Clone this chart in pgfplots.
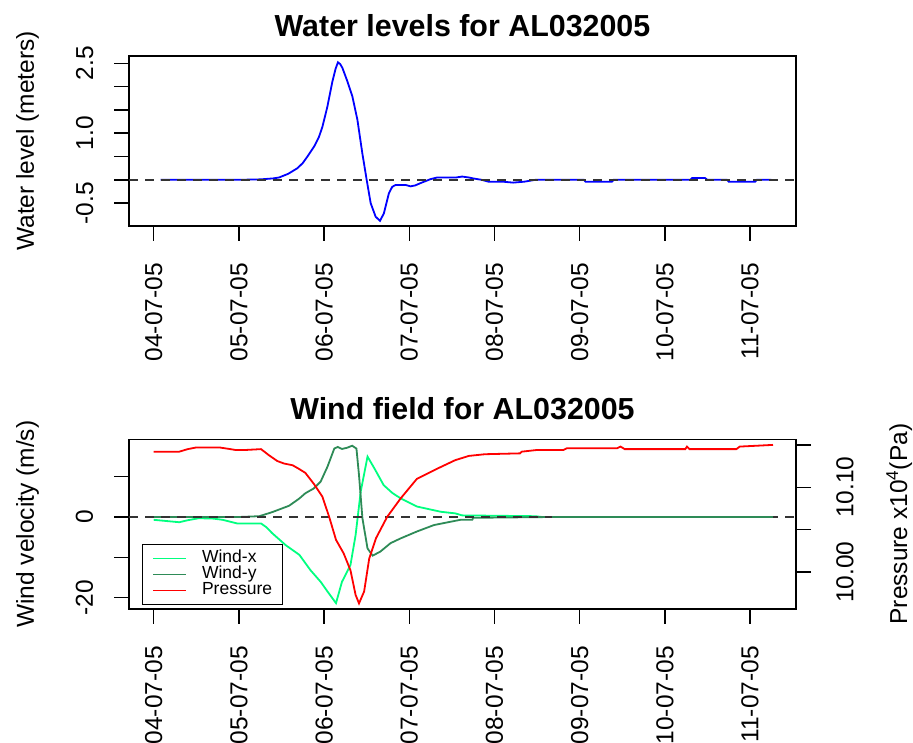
\documentclass[border=0pt]{standalone}
\usepackage{fontspec}
\setmainfont{Liberation Sans}
\usepackage{pgfplots}
\pgfplotsset{compat=1.18}

\definecolor{windx}{HTML}{00FF7F}
\definecolor{windy}{HTML}{2E8B57}
\definecolor{refline}{HTML}{333333}

\newcommand\tickfont{\fontsize{24.5}{29}\selectfont}
\newcommand\titlefont{\fontsize{30.4}{36}\selectfont\bfseries}
\newcommand\legfont{\fontsize{17.5}{16}\selectfont}

% time axis: days since 04-07-05 00:00
\pgfplotsset{
  rpanel/.style={
    scale only axis,
    width=667pt,
    xmin=-0.29, xmax=7.54,
    axis line style={line width=1.4pt, black},
    every tick/.style={line width=1.4pt, black},
    major tick length=15pt,
    tick align=outside,
    xtick pos=bottom,
    ytick pos=left,
    xtick={0,1,2,3,4,5,6,7},
    xticklabels={04-07-05,05-07-05,06-07-05,07-07-05,08-07-05,09-07-05,10-07-05,11-07-05},
    xticklabel style={yshift=-22pt, rotate=90, anchor=east, inner sep=0pt, font=\tickfont},
    yticklabel style={xshift=-21pt, rotate=90, anchor=base, inner sep=0pt, font=\tickfont},
    every axis title/.style={font=\titlefont, at={(0.5,1)}, anchor=base, yshift=19.3pt, inner sep=0pt},
  },
  zeroline/.style={refline, line width=1.6pt, dash pattern=on 9pt off 7pt},
}

\begin{document}
\begin{tikzpicture}
\path[use as bounding box] (0,0) rectangle (913pt,743pt);

% ---------------- water levels ----------------
\begin{axis}[rpanel, name=wl,
  at={(129pt,517pt)}, anchor=south west, height=170pt,
  ymin=-0.99, ymax=2.655,
  ytick={-0.5,0,0.5,1,1.5,2,2.5},
  yticklabels={-0.5,,,1.0,,,2.5},
  title={Water levels for AL032005},
]
\addplot[blue, line width=1.8pt] coordinates {
(0.08,0) (0.5,0) (1.0,0) (1.257,0.01) (1.40,0.03) (1.472,0.05) (1.58,0.13)
(1.688,0.25) (1.75,0.36) (1.805,0.50) (1.882,0.71) (1.94,0.92) (1.981,1.14)
(2.039,1.57) (2.098,2.11) (2.135,2.38) (2.163,2.52) (2.19,2.48) (2.215,2.40)
(2.274,2.11) (2.332,1.79) (2.391,1.29) (2.449,0.57) (2.500,0.0) (2.547,-0.5)
(2.605,-0.79) (2.656,-0.88) (2.702,-0.72) (2.761,-0.29) (2.80,-0.15) (2.840,-0.11)
(2.957,-0.11) (3.015,-0.14) (3.07,-0.12) (3.133,-0.07) (3.250,0.015) (3.328,0.05)
(3.55,0.05) (3.62,0.07) (3.70,0.05) (3.75,0.03) (3.85,0.0) (3.93,-0.04)
(4.10,-0.04) (4.22,-0.06) (4.35,-0.04) (4.48,0) (5.05,0) (5.07,-0.04)
(5.38,-0.04) (5.40,0) (6.30,0) (6.32,0.04) (6.47,0.04) (6.50,0) (6.73,0)
(6.75,-0.04) (7.06,-0.04) (7.08,0) (7.25,0)
};
\addplot[zeroline] coordinates {(-0.29,0) (7.54,0)};
\end{axis}

% ---------------- wind field ----------------
\begin{axis}[rpanel, name=wf,
  at={(129pt,134pt)}, anchor=south west, height=169.7pt,
  ymin=-22.85, ymax=19.3,
  ytick={-20,-10,0,10},
  yticklabels={-20,,0,},
  title={Wind field for AL032005},
]
\addplot[windx, line width=1.8pt] coordinates {
(0,-0.7) (0.15,-1.0) (0.30,-1.3) (0.40,-0.8) (0.53,-0.3) (0.70,-0.4) (0.81,-0.7)
(0.98,-1.6) (1.26,-1.6) (1.32,-2.5) (1.39,-4.0) (1.55,-7.0) (1.71,-9.4)
(1.84,-13.2) (1.96,-16.1) (2.04,-18.5) (2.14,-21.4) (2.21,-16.1) (2.31,-11.9)
(2.37,-4.5) (2.43,6.3) (2.51,15.0) (2.59,12.1) (2.70,7.9) (2.80,6.0) (2.90,4.6)
(3.09,2.6) (3.37,1.3) (3.54,0.9) (3.62,0.4) (4.48,0.2) (4.56,0) (4.68,0) (7.27,0)
};
\addplot[windy, line width=1.8pt] coordinates {
(0,0) (1.00,0) (1.24,0.2) (1.39,1.2) (1.59,2.8) (1.71,4.6) (1.78,5.9) (1.88,7.1)
(1.96,8.8) (2.04,12.5) (2.12,17.0) (2.16,17.4) (2.21,16.9) (2.27,17.2) (2.33,17.7)
(2.38,17.0) (2.41,10.4) (2.45,-0.3) (2.51,-7.8) (2.57,-9.6) (2.66,-8.6) (2.78,-6.5)
(2.90,-5.3) (3.09,-3.6) (3.29,-2.0) (3.48,-1.2) (3.60,-0.7) (3.74,-0.7) (3.75,-0.2)
(4.68,0)
};
\addplot[zeroline] coordinates {(-0.29,0) (7.54,0)};
\addplot[windy, line width=1.8pt] coordinates {(4.68,0) (7.27,0)};
\end{axis}

% pressure on the right-hand scale
\begin{axis}[
  scale only axis, width=667pt, height=169.7pt,
  at={(129pt,134pt)}, anchor=south west,
  xmin=-0.29, xmax=7.54,
  ymin=9.9564, ymax=10.1566,
  axis x line=none,
  axis y line*=right,
  axis line style={line width=1.4pt, black},
  every tick/.style={line width=1.4pt, black},
  major tick length=15pt,
  tick align=outside,
  ytick={10.00,10.05,10.10,10.15},
  yticklabels={10.00,,10.10,},
  yticklabel style={xshift=25pt, rotate=90, anchor=north, inner sep=0pt, font=\tickfont},
  legend style={at={(0.019,0.383)}, anchor=north west, draw=black, line width=1.2pt,
    fill=white, inner xsep=10pt, inner ysep=6pt, font=\legfont, column sep=15pt,
    nodes={inner sep=0pt, text height=12pt, text depth=4pt}},
  legend cell align=left,
  legend image code/.code={\draw[#1] (5pt,0pt) -- (38pt,0pt);},
]
\addlegendimage{windx, line width=1.8pt}
\addlegendentry{Wind-x}
\addlegendimage{windy, line width=1.8pt}
\addlegendentry{Wind-y}
\addplot[red, line width=1.8pt] coordinates {
(0,10.142) (0.30,10.142) (0.40,10.145) (0.50,10.147) (0.77,10.147) (0.90,10.145)
(0.96,10.144) (1.08,10.144) (1.26,10.145) (1.35,10.138) (1.45,10.131) (1.53,10.128)
(1.63,10.126) (1.70,10.122) (1.78,10.117) (1.88,10.104) (1.98,10.089) (2.06,10.065)
(2.14,10.038) (2.23,10.022) (2.31,10.002) (2.37,9.973) (2.41,9.963) (2.47,9.977)
(2.53,10.016) (2.61,10.040) (2.74,10.065) (2.90,10.087) (3.09,10.110) (3.33,10.122)
(3.54,10.132) (3.70,10.137) (3.89,10.139) (4.30,10.140) (4.32,10.142) (4.50,10.144)
(4.81,10.144) (4.85,10.146) (5.44,10.146) (5.48,10.148) (5.53,10.145) (6.24,10.145)
(6.26,10.148) (6.29,10.145) (6.84,10.145) (6.88,10.148) (7.08,10.149) (7.27,10.150)
};
\addlegendentry{Pressure}
\end{axis}

% axis titles
\node[rotate=90, anchor=base, font=\tickfont] at ([xshift=-95pt]wl.west) {Water level (meters)};
\node[rotate=90, anchor=base, font=\tickfont] at ([xshift=-95pt]wf.west) {Wind velocity (m/s)};
\node[rotate=90, anchor=north, font=\tickfont, inner sep=0pt] at ([xshift=90pt]wf.east) {Pressure x10\textsuperscript{4}(Pa)};
\end{tikzpicture}
\end{document}
